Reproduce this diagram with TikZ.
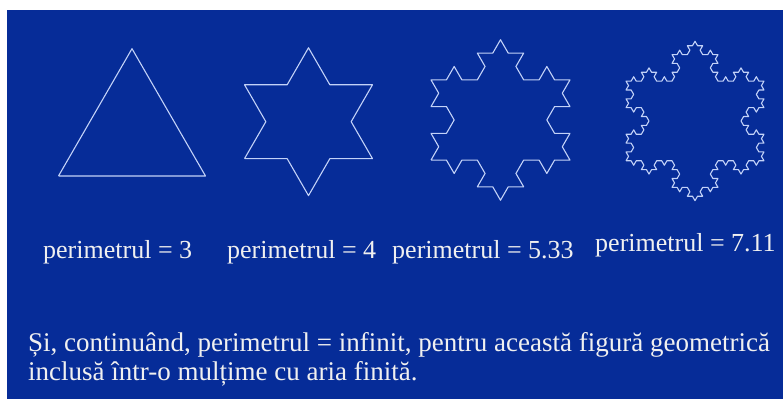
\documentclass[tikz,border=0pt]{standalone}
\usepackage{fontspec}
\setmainfont{Liberation Serif}
\usetikzlibrary{lindenmayersystems}
\pgfdeclarelindenmayersystem{Koch}{\rule{F -> F-F++F-F}}
\definecolor{bgblue}{RGB}{6,44,152}
\definecolor{curve}{RGB}{195,210,248}
\definecolor{txt}{RGB}{240,240,240}
\begin{document}
\begin{tikzpicture}[x=1pt,y=1pt,
  koch/.style={draw=curve,line width=1.1pt,line join=round},
  lbl/.style={anchor=base west,inner sep=0pt,text=txt,font=\fontsize{26}{30}\selectfont},
  para/.style={anchor=base west,inner sep=0pt,text=txt,font=\fontsize{27}{29}\selectfont,align=left}]
\useasboundingbox (0,0) rectangle (783,399);
\fill[white] (0,0) rectangle (783,399);
\fill[bgblue] (7,0) rectangle (783,389);
% snowflakes
\draw[koch,shift={(58.5,223)},lindenmayer system={Koch, axiom=F++F++F, order=0, step=147pt, angle=60}] lindenmayer system;
\draw[koch,shift={(244.5,240.35)},lindenmayer system={Koch, axiom=F++F++F, order=1, step=42.667pt, angle=60}] lindenmayer system;
\draw[koch,shift={(431,238.9)},lindenmayer system={Koch, axiom=F++F++F, order=2, step=15.444pt, angle=60}] lindenmayer system;
\draw[koch,shift={(626,238.2)},lindenmayer system={Koch, axiom=F++F++F, order=3, step=5.111pt, angle=60}] lindenmayer system;
% labels
\node[lbl] (p1) at (43,141) {perimetrul = 3};
\node[lbl] (p2) at (227,141) {perimetrul = 4};
\node[lbl] (p3) at (392,141) {perimetrul = 5.33};
\node[lbl] (p4) at (595,147) {perimetrul = 7.11};
\node[para] (t1) at (28,48) {Și, continuând, perimetrul = infinit, pentru această figură geometrică};
\node[para] (t2) at (28,19) {inclusă într-o mulțime cu aria finită.};
\end{tikzpicture}
\end{document}
